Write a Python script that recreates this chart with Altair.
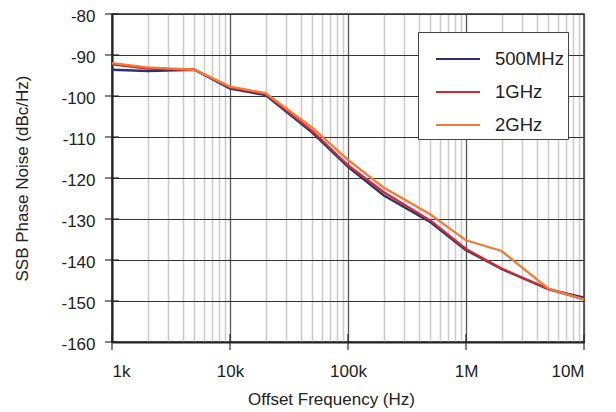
import altair as alt
import pandas as pd

freqs = [1e3, 2e3, 5e3, 1e4, 2e4, 5e4, 1e5, 2e5, 5e5, 1e6, 2e6, 5e6, 1e7]
n500 = [-93.6, -93.9, -93.6, -98.2, -99.8, -109.0, -117.3, -124.2, -130.8, -137.6, -142.2, -147.1, -149.2]
n1g = [-92.3, -93.3, -93.6, -97.9, -99.5, -108.6, -116.9, -123.4, -130.4, -137.3, -142.1, -147.1, -149.6]
n2g = [-92.0, -93.0, -93.6, -97.7, -99.3, -107.8, -115.6, -122.3, -128.9, -135.2, -137.8, -147.0, -149.6]
series = ["500MHz", "1GHz", "2GHz"]
colors = ["#2d3173", "#cc2a30", "#f47a38"]

decades = [1e3, 1e4, 1e5, 1e6, 1e7]
grid_x = [m * 10 ** e for e in range(3, 7) for m in range(1, 10)] + [1e7]
y_ticks = list(range(-160, -79, 10))
dec_labels = ["1k", "10k", "100k", "1M", "10M"]

rows = []
for name, vals in zip(series, [n500, n1g, n2g]):
    for f, v in zip(freqs, vals):
        rows.append({"f": f, "noise": v, "series": name})
df = pd.DataFrame(rows)

label_expr = " : ".join(
    f"datum.value == {int(d)} ? '{l}'" for d, l in zip(decades, dec_labels)
) + " : ''"
major_test = "indexof([" + ",".join(str(int(d)) for d in decades) + "], datum.value) >= 0"

FONT = "Liberation Sans"

xscale = alt.Scale(type="log", domain=[1e3, 1e7], nice=False)
yscale = alt.Scale(domain=[-160, -80], nice=False, zero=False)

x_axis = alt.Axis(
    values=grid_x,
    labelExpr=label_expr,
    grid=True,
    gridColor={"condition": {"test": major_test, "value": "#555555"}, "value": "#cccccc"},
    gridWidth={"condition": {"test": major_test, "value": 1.3}, "value": 1.6},
    ticks=False,
    tickSize=0,
    labelPadding=21,
    labelFontSize=17,
    labelColor="#222222",
    labelFont=FONT,
    domainColor="#222222",
    domainWidth=2,
    title="Offset Frequency (Hz)",
    titleFontSize=17,
    titleFontWeight="normal",
    titleFont=FONT,
    titleColor="#222222",
    titleX=219,
    titleY=57,
    titleBaseline="middle",
    titleAnchor="middle",
)
y_axis = alt.Axis(
    values=y_ticks,
    labelExpr="'' + datum.value",
    grid=True,
    gridColor="#333333",
    gridWidth=1.1,
    ticks=False,
    tickSize=0,
    labelPadding=17,
    labelOffset=2,
    labelFontSize=17,
    labelColor="#222222",
    labelFont=FONT,
    domainColor="#222222",
    domainWidth=2,
    title="SSB Phase Noise (dBc/Hz)",
    titleFontSize=17,
    titleFontWeight="normal",
    titleFont=FONT,
    titleColor="#222222",
    titleX=-90,
    titleY=164,
    titleBaseline="middle",
    titleAngle=270,
)

lines = alt.Chart(df).mark_line(strokeWidth=2.3).encode(
    x=alt.X("f:Q", scale=xscale, axis=x_axis),
    y=alt.Y("noise:Q", scale=yscale, axis=y_axis),
    color=alt.Color(
        "series:N",
        scale=alt.Scale(domain=series, range=colors),
        legend=alt.Legend(
            title=None,
            orient="none",
            legendX=306,
            legendY=18,
            fillColor="white",
            strokeColor="#444444",
            padding=4,
            symbolOffset=13,
            symbolType="stroke",
            symbolSize=1936,
            symbolStrokeWidth=2,
            labelFontSize=18.5,
            labelFont=FONT,
            labelColor="#222222",
            labelOffset=14,
            rowPadding=-5.5,
        ),
    ),
    order=alt.Order("f:Q"),
)

xt = pd.DataFrame({"f": decades, "y": [-160] * len(decades)})
xticks = alt.Chart(xt).mark_tick(orient="vertical", size=16, thickness=1.6, color="#222222").encode(
    x=alt.X("f:Q", scale=xscale), y=alt.Y("y:Q", scale=yscale)
)
yt = pd.DataFrame({"f": [1e3] * len(y_ticks), "y": y_ticks})
yticks = alt.Chart(yt).mark_tick(orient="horizontal", size=14, thickness=1.6, color="#222222").encode(
    x=alt.X("f:Q", scale=xscale), y=alt.Y("y:Q", scale=yscale)
)

chart = (
    alt.layer(lines, xticks, yticks)
    .properties(
        width=472,
        height=328,
        autosize=alt.AutoSizeParams(type="none"),
        padding={"left": 104, "top": 6, "right": 24, "bottom": 66},
        background="white",
    )
    .configure_view(stroke="#333333", strokeWidth=1.5)
)

chart.save("out.html", embed_options={"renderer": "svg", "actions": False})
